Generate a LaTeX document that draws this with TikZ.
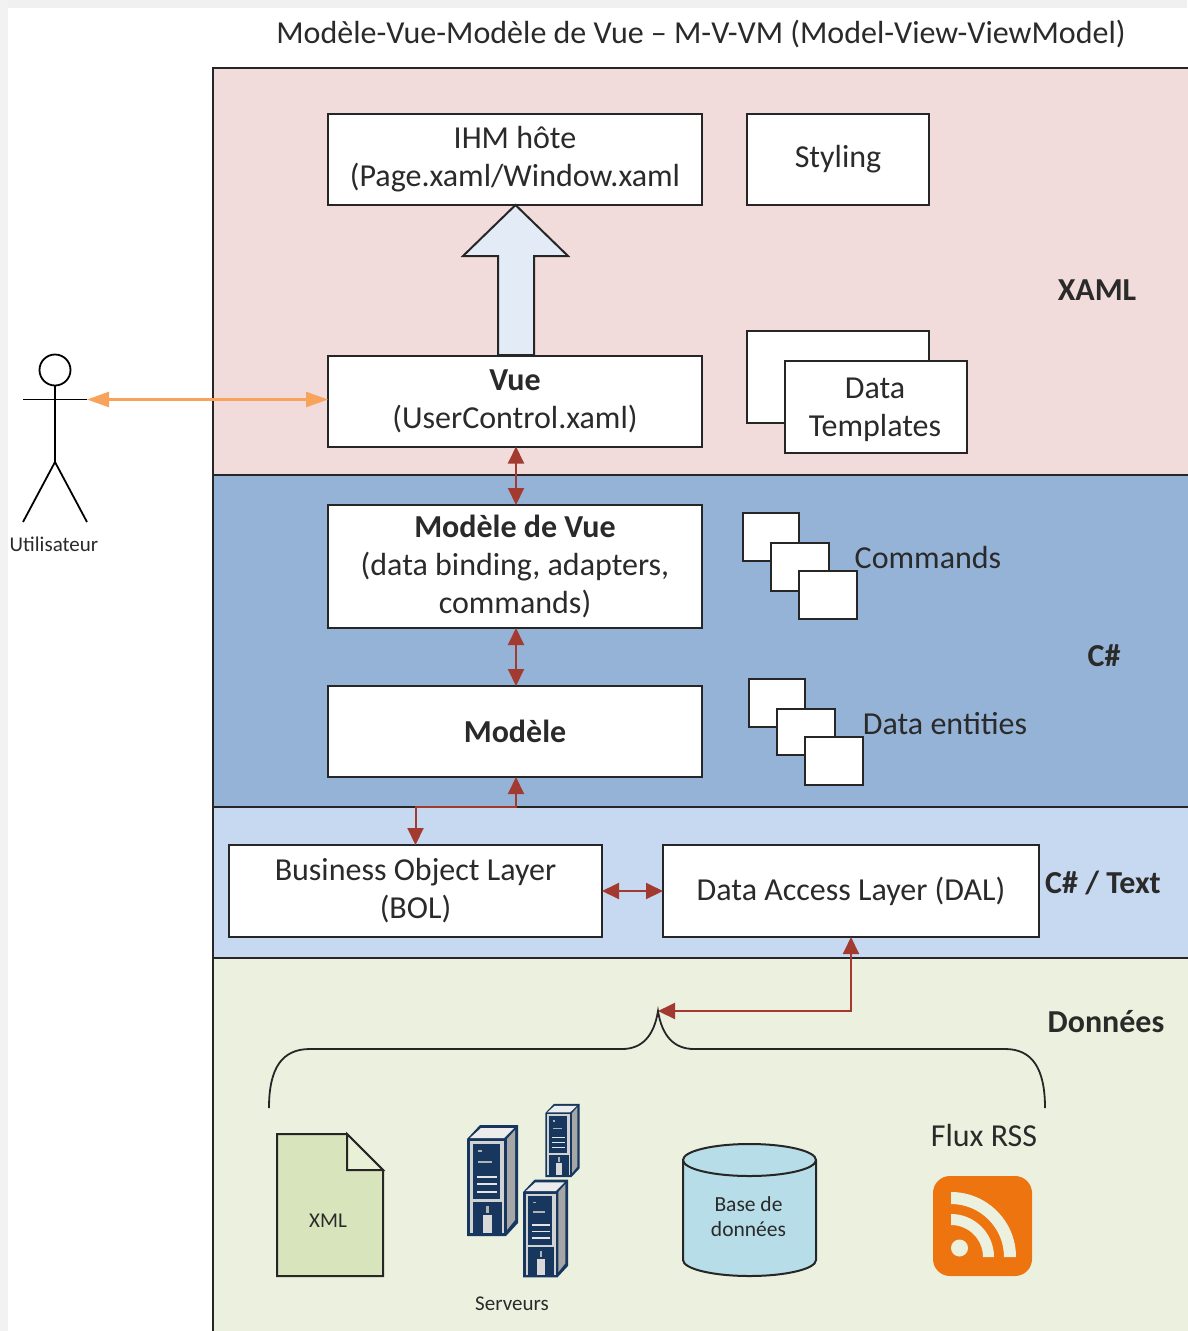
\documentclass[tikz,border=0pt]{standalone}
\usepackage{fontspec}
\setmainfont{Carlito}
\usetikzlibrary{arrows.meta,calc,shapes.geometric}
\definecolor{txt}{HTML}{2A2A2A}
\definecolor{redarr}{HTML}{A23A30}
\definecolor{orangearr}{HTML}{F7A35C}
\definecolor{navy}{HTML}{17375E}
\tikzset{
  every node/.style={text=txt},
  lab/.style={font=\fontsize{32}{38}\selectfont,align=center,inner sep=0pt},
  blab/.style={lab,font=\fontsize{32}{38}\selectfont\bfseries},
  small/.style={font=\fontsize{21}{25}\selectfont,align=center,inner sep=0pt},
  layer/.style={draw=black!85,line width=2pt,anchor=north west,inner sep=0pt,outer sep=0pt,minimum width=980pt},
  box/.style={draw=black!85,fill=white,line width=2pt,anchor=north west,inner sep=0pt,outer sep=0pt,font=\fontsize{32}{38}\selectfont,align=center},
  link/.style={draw=redarr,line width=2pt,{Triangle[length=17pt,width=16pt]}-{Triangle[length=17pt,width=16pt]}},
  stick/.style={draw=black,line width=1.8pt},
}
\newcommand{\serverart}{%
  \fill[navy] (-1,0) -- (12,-14) -- (50,-14) -- (50,84) -- (38,97) -- (-1,97) -- cycle;
  \fill[gray!15] (2,-1) -- (13,-11) -- (46,-11) -- (36,-1) -- cycle;
  \fill[gray!70] (39,0) -- (47,-9) -- (47,81) -- (39,91) -- cycle;
  \fill[gray!35] (2,2) rectangle (36,94);
  \fill[navy] (5,5) rectangle (32,60);
  \fill[navy] (5,63) rectangle (34,94);
  \fill[gray!20] (9,36.5) rectangle (29,38.5);
  \fill[gray!20] (9,44) rectangle (29,46);
  \fill[gray!20] (9,51.5) rectangle (29,53.5);
  \fill[gray!60] (10,22) rectangle (24,23.5);
  \fill[gray!60] (10,11) rectangle (14,13);
  \fill[gray!30] (15,76) rectangle (24,94);
  \fill[gray!60] (18,67) rectangle (21,74);
}
\begin{document}
\begin{tikzpicture}[x=1pt,y=-1pt]
\useasboundingbox (0,0) rectangle (1187,1331);
\fill[white] (0,0) rectangle (1187,1331);
\fill[gray!12] (0,0) rectangle (1187,8);
\fill[gray!10] (0,0) rectangle (8,1331);

\node[lab] (title) at (701,34) {Modèle-Vue-Modèle de Vue -- M-V-VM (Model-View-ViewModel)};

% layers
\node[layer,fill={rgb,255:red,242;green,220;blue,219},minimum height=407pt] (xaml) at (213,68) {};
\node[layer,fill={rgb,255:red,149;green,179;blue,215},minimum height=332pt] (cs) at (213,475) {};
\node[layer,fill={rgb,255:red,198;green,217;blue,241},minimum height=151pt] (cstext) at (213,807) {};
\node[layer,fill={rgb,255:red,235;green,241;blue,222},minimum height=380pt] (data) at (213,958) {};

\node[blab] (lxaml) at (1097,290) {XAML};
\node[blab] (lcs) at (1104,656) {C\#};
\node[blab] (lcst) at (1103,883) {C\# / Text};
\node[blab] (ldata) at (1106,1022) {Données};

% boxes
\node[box,minimum width=374pt,minimum height=91pt] (ihm) at (328,113.5) {IHM hôte\\(Page.xaml/Window.xaml};
\node[box,minimum width=182pt,minimum height=91pt] (styling) at (747,113.5) {Styling};
\node[box,minimum width=374pt,minimum height=91pt] (vue) at (328,355.5) {\textbf{Vue}\\(UserControl.xaml)};
\node[box,minimum width=182pt,minimum height=92pt] (dt1) at (747,331) {};
\node[box,minimum width=182pt,minimum height=92pt] (dt2) at (785,361) {};
\node[lab] (ldt) at (875,410) {Data\\Templates};
\node[box,minimum width=374pt,minimum height=123pt] (mdv) at (328,505) {\textbf{Modèle de Vue}\\(data binding, adapters,\\commands)};
\node[box,minimum width=374pt,minimum height=91pt,font=\fontsize{32}{38}\selectfont\bfseries] (modele) at (328,686) {Modèle};
\node[box,minimum width=373pt,minimum height=92pt] (bol) at (229,845) {Business Object Layer\\(BOL)};
\node[box,minimum width=376pt,minimum height=92pt] (dal) at (663,845) {Data Access Layer (DAL)};

\node[box,minimum width=56pt,minimum height=48pt] (c1) at (743,513) {};
\node[box,minimum width=58pt,minimum height=48pt] (c2) at (771,543) {};
\node[box,minimum width=58pt,minimum height=48pt] (c3) at (799,571) {};
\node[lab] (lcmd) at (928,557.5) {Commands};
\node[box,minimum width=56pt,minimum height=48pt] (e1) at (749,679) {};
\node[box,minimum width=58pt,minimum height=46pt] (e2) at (777,709) {};
\node[box,minimum width=58pt,minimum height=48pt] (e3) at (805,737) {};
\node[lab] (lent) at (945,724) {Data entities};

% big arrow
\draw[draw=black!85,fill={rgb,255:red,227;green,235;blue,246},line width=2pt]
  (498,355) -- (498,256) -- (463,256) -- (515.5,205) -- (568,256) -- (534,256) -- (534,355) -- cycle;

% actor
\coordinate (hand) at (87,399.5);
\node[circle,draw=black,line width=1.8pt,minimum size=31pt,inner sep=0pt,outer sep=0pt,fill=white] (head) at (55,370) {};
\coordinate (hip) at (55,462);
\coordinate (larm) at (23,399.5);
\coordinate (lfoot) at (23,522);
\coordinate (rfoot) at (87,522);
\draw[stick] (head.south) -- (hip);
\draw[stick] (larm) -- (hand);
\draw[stick] (lfoot) -- (hip) -- (rfoot);
\node[small] (user) at (54,544) {Utilisateur};
\draw[draw=orangearr,line width=2.5pt,{Triangle[length=22pt,width=15pt]}-{Triangle[length=22pt,width=15pt]}] (hand) -- (vue.west |- hand);

% red links
\draw[link] ($(vue.south)+(1,0)$) -- ($(mdv.north)+(1,0)$);
\draw[link] ($(mdv.south)+(1,0)$) -- ($(modele.north)+(1,0)$);
\coordinate (corner) at (516,807);
\draw[link] ($(modele.south)+(1,0)$) -- (corner) -| (bol.north);
\draw[link] (bol.east) -- (dal.west);
\coordinate (tip) at (658,1011);
\draw[link] (dal.south) |- (tip);

% brace
\coordinate (bl) at (269,1108);
\coordinate (br) at (1045,1108);
\draw[black!85,line width=1.8pt] (bl) .. controls (269,1068) and (282,1049) .. (310,1049)
  -- (622,1049) .. controls (642,1049) and (654,1036) .. (tip)
  .. controls (662,1036) and (674,1049) .. (694,1049)
  -- (1005,1049) .. controls (1032,1049) and (1045,1068) .. (br);

% XML document
\draw[black!85,fill={rgb,255:red,215;green,228;blue,188},line width=2pt]
  (277,1134) -- (347,1134) -- (383,1170) -- (383,1276) -- (277,1276) -- cycle;
\draw[black!85,fill={rgb,255:red,232;green,240;blue,214},line width=2pt] (347,1134) -- (347,1170) -- (383,1170) -- cycle;
\node[font=\fontsize{21}{26}\selectfont,inner sep=0pt] (xml) at (328,1221) {XML};

% servers
\begin{scope}[shift={(468,1139)}]\serverart\end{scope}
\begin{scope}[shift={(546,1113)},xscale=.67,yscale=.66]\serverart\end{scope}
\begin{scope}[shift={(524,1192)},xscale=.88,yscale=.88]\serverart\end{scope}
\node[small] (srv) at (512,1304) {Serveurs};

% database
\fill[fill={rgb,255:red,183;green,221;blue,232}] (683,1160) -- (683,1260) arc[start angle=180,end angle=360,x radius=66.5pt,y radius=16pt] -- (816,1160) -- cycle;
\draw[black!85,line width=2pt] (683,1160) -- (683,1260) arc[start angle=180,end angle=360,x radius=66.5pt,y radius=16pt] -- (816,1160);
\node[ellipse,draw=black!85,line width=2pt,fill={rgb,255:red,183;green,221;blue,232},minimum width=133pt,minimum height=32pt,inner sep=0pt,outer sep=0pt] (dbtop) at (749.5,1160) {};
\node[font=\fontsize{21.5}{25}\selectfont,align=center,inner sep=0pt] (db) at (748.5,1217) {Base de\\données};

% RSS
\node[lab] (lrss) at (984,1135) {Flux RSS};
\fill[fill={rgb,255:red,238;green,116;blue,16},rounded corners=17pt] (933,1176) rectangle (1032,1276);
\fill[fill={rgb,255:red,235;green,241;blue,222}] (951,1192) arc[start angle=90,end angle=0,radius=65pt] -- (1004,1257) arc[start angle=0,end angle=90,radius=53pt] -- cycle;
\fill[fill={rgb,255:red,235;green,241;blue,222}] (951,1214) arc[start angle=90,end angle=0,radius=43pt] -- (983,1257) arc[start angle=0,end angle=90,radius=32pt] -- cycle;
\fill[fill={rgb,255:red,235;green,241;blue,222}] (959.5,1248) circle[radius=8.5pt];
\end{tikzpicture}
\end{document}
